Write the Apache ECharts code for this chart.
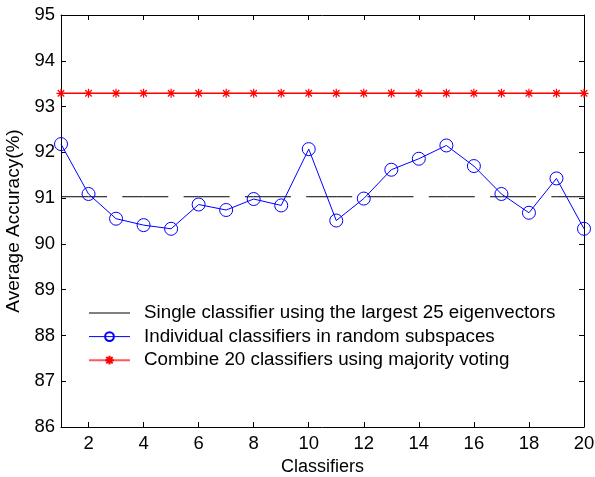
<!DOCTYPE html>
<html>
<head>
<meta charset="utf-8">
<script src="https://cdn.jsdelivr.net/npm/echarts@6/dist/echarts.min.js"></script>
<style>
html,body{margin:0;padding:0;background:#fff;}
#chart{width:595px;height:477px;}
</style>
</head>
<body>
<div id="chart"></div>
<script>
// ---- data ----
var classifiers = [1,2,3,4,5,6,7,8,9,10,11,12,13,14,15,16,17,18,19,20];
var singleAcc = [91.03,91.03,91.03,91.03,91.03,91.03,91.03,91.03,91.03,91.03,91.03,91.03,91.03,91.03,91.03,91.03,91.03,91.03,91.03,91.03];
var individualAcc = [92.18,91.09,90.55,90.41,90.33,90.86,90.74,90.98,90.84,92.07,90.51,90.99,91.62,91.86,92.15,91.70,91.09,90.68,91.43,90.33];
var combinedAcc = [93.29,93.29,93.29,93.29,93.29,93.29,93.29,93.29,93.29,93.29,93.29,93.29,93.29,93.29,93.29,93.29,93.29,93.29,93.29,93.29];
var xTicks = [2,4,6,8,10,12,14,16,18,20];
var seriesNames = [
  'Single classifier using the largest 25 eigenvectors',
  'Individual classifiers in random subspaces',
  'Combine 20 classifiers using majority voting'
];
var xTitle = 'Classifiers';
var yTitle = 'Average Accuracy(%)';

function pairs(xs, ys){ return xs.map(function(x,i){ return [x, ys[i]]; }); }

var FONT = '"Liberation Sans", Arial, sans-serif';
var FS_TICK = 18.5;
var FS_LEG = 18.8;
var asterisk = 'path://M0,-1L0,1M-1,0L1,0M-0.72,-0.72L0.72,0.72M-0.72,0.72L0.72,-0.72';

var chart = echarts.init(document.getElementById('chart'), null, {renderer:'canvas'});
var axisLineStyle = {color:'#000', width:1};
chart.setOption({
  animation:false,
  backgroundColor:'#fff',
  textStyle:{fontFamily:FONT},
  grid:{left:61, top:15, width:523, height:412, show:false, containLabel:false, outerBoundsMode:'none'},
  legend:{
    orient:'vertical', left:88, top:303.5, padding:0,
    itemWidth:41, itemHeight:11, itemGap:4.6,
    textStyle:{fontFamily:FONT, fontSize:FS_LEG, color:'#000', padding:[0,0,0,9]},
    lineStyle:{type:'solid'},
    data:[
      {name:seriesNames[0], lineStyle:{type:'solid', width:1}},
      {name:seriesNames[1], lineStyle:{type:'solid', width:1}},
      {name:seriesNames[2], lineStyle:{type:'solid', width:2, color:'#ff5a5a'}}
    ]
  },
  xAxis:[{
    type:'value', min:1, max:20, position:'bottom',
    name:xTitle, nameLocation:'middle', nameGap:31,
    nameTextStyle:{fontFamily:FONT, fontSize:18, color:'#000'},
    axisLine:{show:true, onZero:false, lineStyle:axisLineStyle},
    axisTick:{show:true, inside:true, length:5, customValues:xTicks, lineStyle:axisLineStyle},
    axisLabel:{show:true, margin:7, fontFamily:FONT, fontSize:FS_TICK, color:'#000', customValues:xTicks},
    splitLine:{show:false}
  },{
    type:'value', min:1, max:20, position:'top',
    axisLine:{show:true, onZero:false, lineStyle:axisLineStyle},
    axisTick:{show:true, inside:true, length:5, customValues:xTicks, lineStyle:axisLineStyle},
    axisLabel:{show:false},
    splitLine:{show:false}
  }],
  yAxis:[{
    type:'value', min:86, max:95, interval:1, position:'left',
    name:yTitle, nameLocation:'middle', nameGap:36,
    nameTextStyle:{fontFamily:FONT, fontSize:19, color:'#000'},
    axisLine:{show:true, onZero:false, lineStyle:axisLineStyle},
    axisTick:{show:true, inside:true, length:5, lineStyle:axisLineStyle},
    axisLabel:{show:true, margin:6, fontFamily:FONT, fontSize:FS_TICK, color:'#000'},
    splitLine:{show:false}
  },{
    type:'value', min:86, max:95, interval:1, position:'right',
    axisLine:{show:true, onZero:false, lineStyle:axisLineStyle},
    axisTick:{show:true, inside:true, length:5, lineStyle:axisLineStyle},
    axisLabel:{show:false},
    splitLine:{show:false}
  }],
  series:[{
    name:seriesNames[0], type:'line', data:pairs(classifiers, singleAcc),
    showSymbol:false, symbol:'circle', symbolSize:1,
    lineStyle:{color:'#000', width:1, type:[46,15.3]},
    itemStyle:{color:'rgba(0,0,0,0)', borderWidth:0}, z:2
  },{
    name:seriesNames[1], type:'line', data:pairs(classifiers, individualAcc),
    symbol:'circle', symbolSize:13,
    lineStyle:{color:'#0000ff', width:1},
    itemStyle:{color:'rgba(0,0,0,0)', borderColor:'#0000ff', borderWidth:1}, z:3
  },{
    name:seriesNames[2], type:'line', data:pairs(classifiers, combinedAcc),
    symbol:asterisk, symbolSize:9,
    lineStyle:{color:'#ff0000', width:1.5},
    itemStyle:{color:'#ff0000', borderColor:'#ff0000', borderWidth:1.2}, z:4
  }]
});
</script>
</body>
</html>
